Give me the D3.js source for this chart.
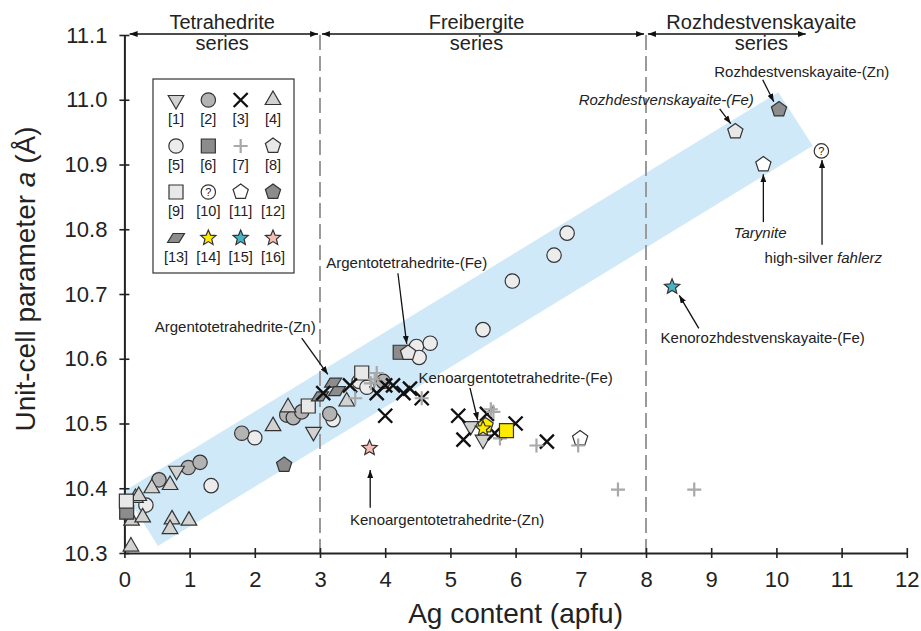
<!DOCTYPE html>
<html>
<head>
<meta charset="utf-8">
<title>Unit-cell parameter vs Ag content</title>
<script src="https://cdnjs.cloudflare.com/ajax/libs/d3/7.8.5/d3.min.js"></script>
<style>
  body { margin: 0; background: #fff; }
  svg { display: block; font-family: "Liberation Sans", Arial, sans-serif; }
  .narrow { font-family: "Liberation Sans Narrow", "Arial Narrow", "Liberation Sans", sans-serif; }
</style>
</head>
<body>
<svg id="chart" width="921" height="631"></svg>
<script>
// ---- data (Ag apfu, a in Å) ----
const xTickValues = [0, 1, 2, 3, 4, 5, 6, 7, 8, 9, 10, 11, 12];
const yTickValues = [10.3, 10.4, 10.5, 10.6, 10.7, 10.8, 10.9, 11.0, 11.1];

const s1 = [[0.8, 10.427], [2.9, 10.487], [5.31, 10.496], [5.5, 10.475]];
const s2 = [[0.53, 10.413], [0.98, 10.432], [1.16, 10.44], [1.8, 10.485], [2.49, 10.513],
            [2.59, 10.509], [2.72, 10.518], [3.15, 10.515], [3.97, 10.565]];
const s3 = [[3.05, 10.547], [3.46, 10.559], [3.87, 10.547], [4.0, 10.559], [4.12, 10.559],
            [4.28, 10.547], [4.38, 10.554], [4.56, 10.539], [4.0, 10.512], [5.12, 10.512],
            [5.2, 10.475], [5.56, 10.515], [5.68, 10.485], [6.0, 10.5], [6.48, 10.472]];
const s4 = [[0.11, 10.35], [0.1, 10.31], [0.17, 10.385], [0.22, 10.388], [0.28, 10.355],
            [0.42, 10.40], [0.7, 10.405], [0.73, 10.352], [0.7, 10.337], [0.99, 10.35],
            [2.28, 10.496], [2.51, 10.525], [3.41, 10.534]];
const s5 = [[0.33, 10.374], [1.33, 10.404], [2.0, 10.478], [3.2, 10.506], [3.6, 10.565],
            [3.72, 10.556], [4.48, 10.619], [4.69, 10.624], [4.52, 10.602], [5.5, 10.645],
            [5.95, 10.72], [6.59, 10.76], [6.79, 10.794]];
const s6 = [[0.035, 10.363], [4.23, 10.61]];
const s7 = [[3.54, 10.539], [3.78, 10.562], [3.84, 10.568], [3.87, 10.578], [4.56, 10.539],
            [5.66, 10.518], [5.62, 10.522], [5.76, 10.477], [6.32, 10.466], [6.96, 10.466],
            [7.57, 10.398], [8.74, 10.398]];
const s8 = [[4.35, 10.609], [9.37, 10.951]];
const s9 = [[0.03, 10.38], [2.82, 10.527], [3.64, 10.578]];
const s10 = [[10.69, 10.921]];
const s11 = [[9.8, 10.90], [6.99, 10.477]];
const s12 = [[2.45, 10.436], [10.04, 10.985]];
const s13 = [[3.0, 10.542], [3.2, 10.563], [3.26, 10.55]];
const s14 = [[5.5, 10.492]];
const s15 = [[8.4, 10.711]];
const s16 = [[3.76, 10.462]];
const yellowSquare = [[5.86, 10.489]];
const yellowPentagon = [[5.54, 10.497]];

// light-blue trend band corners
const bandCorners = [[-0.01, 10.395], [0.515, 10.311], [10.557, 10.929], [10.03, 11.0115]];

const seriesNames = [
  { name: "Tetrahedrite", from: 0.08, to: 2.97, mid: 1.5 },
  { name: "Freibergite", from: 3.03, to: 7.97, mid: 5.4 },
  { name: "Rozhdestvenskayaite", from: 8.03, to: 10.45, mid: 9.77 }
];
const boundaries = [3, 8];

// label [x, y], arrow from, arrow to (data units)
const notes = [
  { parts: [["Rozhdestvenskayaite-(Zn)", false]], at: [10.39, 11.043], from: [9.79, 11.031], to: [9.96, 10.997] },
  { parts: [["Rozhdestvenskayaite-(Fe)", true]], at: [8.31, 11.0], from: [9.13, 10.986], to: [9.30, 10.963] },
  { parts: [["Tarynite", true]], at: [9.75, 10.794], from: [9.8, 10.811], to: [9.8, 10.885] },
  { parts: [["high-silver ", false], ["fahlerz", true]], at: [10.72, 10.756], from: [10.7, 10.776], to: [10.7, 10.907] },
  { parts: [["Kenorozhdestvenskayaite-(Fe)", false]], at: [9.79, 10.632], from: [8.81, 10.647], to: [8.51, 10.698] },
  { parts: [["Argentotetrahedrite-(Fe)", false]], at: [4.33, 10.748], from: [4.195, 10.732], to: [4.33, 10.623] },
  { parts: [["Argentotetrahedrite-(Zn)", false]], at: [1.70, 10.649], from: [2.72, 10.632], to: [3.12, 10.576] },
  { parts: [["Kenoargentotetrahedrite-(Fe)", false]], at: [6.0, 10.570], from: [5.3, 10.555], to: [5.42, 10.505] },
  { parts: [["Kenoargentotetrahedrite-(Zn)", false]], at: [4.95, 10.351], from: [3.77, 10.370], to: [3.77, 10.428] }
];

// ---- styles per legend entry ----
const series = [
  { id: 1, shape: "triDown", fill: "#d2d2d2", data: s1 },
  { id: 2, shape: "circle", fill: "#b3b3b3", data: s2 },
  { id: 3, shape: "times", fill: "none", data: s3 },
  { id: 4, shape: "triUp", fill: "#d2d2d2", data: s4 },
  { id: 5, shape: "circle", fill: "#ececec", data: s5 },
  { id: 6, shape: "square", fill: "#8c8c8c", data: s6 },
  { id: 7, shape: "plus", fill: "none", data: s7 },
  { id: 8, shape: "pentagon", fill: "#e8e8e8", data: s8 },
  { id: 9, shape: "square", fill: "#e8e8e8", data: s9 },
  { id: 10, shape: "question", fill: "#fff", data: s10 },
  { id: 11, shape: "pentagon", fill: "#fff", data: s11 },
  { id: 12, shape: "pentagon", fill: "#8c8c8c", data: s12 },
  { id: 13, shape: "para", fill: "#8c8c8c", data: s13 },
  { id: 14, shape: "star", fill: "#ffeb00", data: s14 },
  { id: 15, shape: "star", fill: "#46b4c8", data: s15 },
  { id: 16, shape: "star", fill: "#f6beb6", data: s16 }
];
const drawOrder = [5, 2, 4, 1, 6, 9, 8, 11, 12, 13, 3, 7, 10, 14, 15, 16];

function glyph(kind) {
  const p = d3.path();
  const poly = (n, R, off, inner) => {
    const k = inner ? 2 * n : n;
    for (let i = 0; i < k; i++) {
      const a = off + i * 2 * Math.PI / k;
      const rr = inner && i % 2 ? inner : R;
      if (i === 0) p.moveTo(rr * Math.cos(a), rr * Math.sin(a));
      else p.lineTo(rr * Math.cos(a), rr * Math.sin(a));
    }
    p.closePath();
  };
  switch (kind) {
    case "circle": case "question": p.arc(0, 0, 7.2, 0, 2 * Math.PI); break;
    case "square": p.rect(-7, -7, 14, 14); break;
    case "triUp": poly(3, 9, -Math.PI / 2); break;
    case "triDown": poly(3, 9, Math.PI / 2); break;
    case "pentagon": poly(5, 8, -Math.PI / 2); break;
    case "star": poly(5, 8, -Math.PI / 2, 3.6); break;
    case "para": p.moveTo(-8.5, 4.5); p.lineTo(-3, -4.5); p.lineTo(8.5, -4.5); p.lineTo(3, 4.5); p.closePath(); break;
    case "times": p.moveTo(-7, -7); p.lineTo(7, 7); p.moveTo(7, -7); p.lineTo(-7, 7); break;
    case "plus": p.moveTo(-7, 0); p.lineTo(7, 0); p.moveTo(0, -7); p.lineTo(0, 7); break;
  }
  return p.toString();
}

function drawMark(sel, kind, fill) {
  const isLine = kind === "times" || kind === "plus";
  sel.append("path")
    .attr("d", glyph(kind))
    .attr("fill", isLine ? "none" : fill)
    .attr("stroke", kind === "plus" ? "#a8a8a8" : (kind === "times" ? "#111" : "#333"))
    .attr("stroke-width", kind === "times" ? 2.4 : (kind === "plus" ? 2.2 : 1.2))
    .attr("stroke-linejoin", "miter");
  if (kind === "question") {
    sel.append("text").attr("text-anchor", "middle").attr("dy", "0.36em")
      .attr("font-size", 11).attr("fill", "#222").text("?");
  }
}

// ---- chart ----
const svg = d3.select("#chart");
const x = d3.scaleLinear().domain([0, 12]).range([124.4, 906.8]);
const y = d3.scaleLinear().domain([10.3, 11.1]).range([553, 35]);

const defs = svg.append("defs");
defs.append("marker").attr("id", "head")
  .attr("viewBox", "0 0 8 6").attr("refX", 8).attr("refY", 3)
  .attr("markerWidth", 8).attr("markerHeight", 6)
  .attr("markerUnits", "userSpaceOnUse").attr("orient", "auto-start-reverse")
  .append("path").attr("d", "M0,0L8,3L0,6Z").attr("fill", "#111");

// band
svg.append("polygon")
  .attr("points", bandCorners.map(d => [x(d[0]), y(d[1])].join(",")).join(" "))
  .attr("fill", "#d0e9f8");

// boundaries
svg.selectAll("line.bound").data(boundaries).join("line")
  .attr("class", "bound")
  .attr("x1", d => x(d)).attr("x2", d => x(d))
  .attr("y1", y(11.1)).attr("y2", y(10.3))
  .attr("stroke", "#9a9a9a").attr("stroke-width", 2)
  .attr("stroke-dasharray", "15,6");

// axes
const xAxis = svg.append("g").attr("transform", `translate(0,${y(10.3)})`)
  .call(d3.axisBottom(x).tickValues(xTickValues).tickSize(5).tickSizeOuter(0).tickPadding(13).tickFormat(d3.format("d")));
xAxis.selectAll(".tick line").attr("y1", -5);
const yAxis = svg.append("g").attr("transform", `translate(${x(0)},0)`)
  .call(d3.axisLeft(y).tickValues(yTickValues).tickSize(5).tickSizeOuter(0).tickPadding(12).tickFormat(d3.format(".1f")));
yAxis.selectAll(".tick line").attr("x1", 5);
[xAxis, yAxis].forEach(g => {
  g.select(".domain").attr("stroke", "#222").attr("stroke-width", 2);
  g.selectAll(".tick line").attr("stroke", "#222").attr("stroke-width", 1.6);
  g.selectAll(".tick text").attr("font-size", 22).attr("fill", "#222")
    .attr("font-family", "\"Liberation Sans\", Arial, sans-serif");
});

svg.append("text").attr("class", "narrow")
  .attr("x", (x(0) + x(12)) / 2).attr("y", 623)
  .attr("text-anchor", "middle").attr("font-size", 28).attr("fill", "#222")
  .text("Ag content (apfu)");
const yl = svg.append("text").attr("class", "narrow")
  .attr("transform", `translate(35,${y(10.7) - 15}) rotate(-90)`)
  .attr("text-anchor", "middle").attr("font-size", 28).attr("fill", "#222");
yl.append("tspan").text("Unit-cell parameter ");
yl.append("tspan").attr("font-style", "italic").text("a");
yl.append("tspan").text(" (Å)");

// series header arrows
const hdr = svg.append("g");
seriesNames.forEach(s => {
  hdr.append("line")
    .attr("x1", x(s.from)).attr("x2", x(s.to))
    .attr("y1", y(11.1) - 1).attr("y2", y(11.1) - 1)
    .attr("stroke", "#111").attr("stroke-width", 1.3)
    .attr("marker-start", "url(#head)").attr("marker-end", "url(#head)");
  hdr.append("text").attr("x", x(s.mid)).attr("y", y(11.1) - 6)
    .attr("text-anchor", "middle").attr("font-size", 20).attr("fill", "#222").text(s.name);
  hdr.append("text").attr("x", x(s.mid)).attr("y", y(11.1) + 15)
    .attr("text-anchor", "middle").attr("font-size", 20).attr("fill", "#222").text("series");
});

// legend
const legend = svg.append("g");
legend.append("rect").attr("x", 153).attr("y", 79).attr("width", 141).attr("height", 194)
  .attr("fill", "#fff").attr("stroke", "#333").attr("stroke-width", 1.2);
const lx = d3.scalePoint().domain([0, 1, 2, 3]).range([176, 273]);
const ly = d3.scalePoint().domain([0, 1, 2, 3]).range([100, 238]);
series.forEach((s, i) => {
  const g = legend.append("g").attr("transform", `translate(${lx(i % 4)},${ly(Math.floor(i / 4))})`);
  drawMark(g, s.shape, s.fill);
  g.append("text").attr("y", 24).attr("text-anchor", "middle")
    .attr("font-size", 14.5).attr("fill", "#222").text(`[${s.id}]`);
});

// points
const pts = svg.append("g");
const byId = new Map(series.map(s => [s.id, s]));
drawOrder.forEach(id => {
  const s = byId.get(id);
  if (id === 14) {
    yellowPentagon.forEach(d => drawMark(pts.append("g").attr("transform", `translate(${x(d[0])},${y(d[1])})`), "pentagon", "#ffeb00"));
    yellowSquare.forEach(d => drawMark(pts.append("g").attr("transform", `translate(${x(d[0])},${y(d[1])})`), "square", "#ffeb00"));
  }
  s.data.forEach(d => {
    drawMark(pts.append("g").attr("transform", `translate(${x(d[0])},${y(d[1])})`), s.shape, s.fill);
  });
});

// annotations
const ann = svg.append("g");
notes.forEach(n => {
  ann.append("line")
    .attr("x1", x(n.from[0])).attr("y1", y(n.from[1]))
    .attr("x2", x(n.to[0])).attr("y2", y(n.to[1]))
    .attr("stroke", "#111").attr("stroke-width", 1.3)
    .attr("marker-end", "url(#head)");
  const t = ann.append("text").attr("x", x(n.at[0])).attr("y", y(n.at[1]))
    .attr("dy", "0.35em").attr("text-anchor", "middle")
    .attr("font-size", 15).attr("fill", "#222");
  n.parts.forEach(p => t.append("tspan").attr("font-style", p[1] ? "italic" : null).text(p[0]));
});
</script>
</body>
</html>
